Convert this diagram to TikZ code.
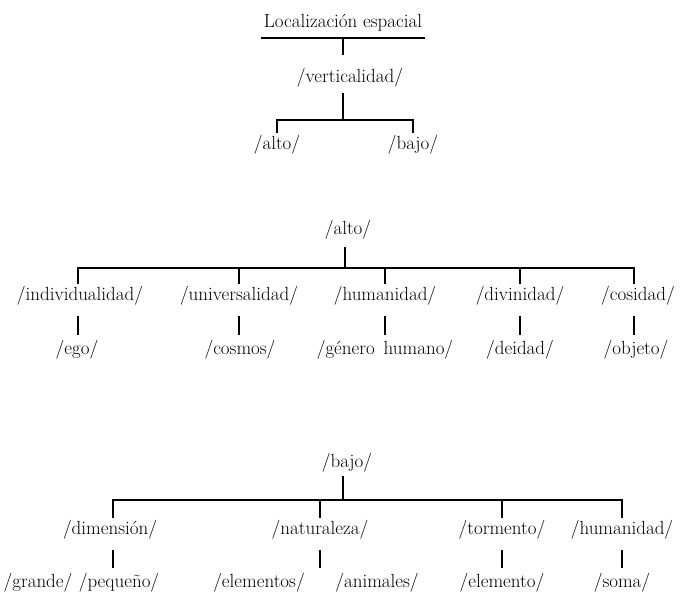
\documentclass[tikz,border=0pt]{standalone}
\usepackage{tikz}
\tikzset{
    lbl/.style={font=\fontsize{19}{23}\selectfont, text height=13.5pt, text depth=4pt, inner xsep=1pt, inner ysep=3pt},
    lnk/.style={line width=2.2pt},
    stem/.style={lnk, shorten <=8pt, shorten >=3pt}
}

\begin{document}
\begin{tikzpicture}[x=1pt, y=1pt]
    \fill[white](0, 0)rectangle(681, -594);
    \useasboundingbox(0, 0)rectangle(681, -594);
    \node[lbl, inner ysep=6pt, inner xsep=3pt](titulo)at(343, -23){Localización espacial};
    \draw[lnk](titulo.south west)--(titulo.south east);
    \node[lbl](vert)at(350, -78){/verticalidad/};
    \node[lbl](altoA)at(277, -145){/alto/};
    \node[lbl](bajoA)at(413, -145){/bajo/};
    \draw[lnk, shorten >=11pt](titulo.south)--(titulo.south |- vert.north);
    \draw[lnk](altoA.north)--++(0, 13)coordinate(barA)-|(bajoA.north);
    \draw[lnk, shorten <=3pt](vert.south -| titulo.south)--(titulo.south |- barA);

    \node[lbl](altoB)at(348, -230){/alto/};
    \node[lbl](indiv)at(80, -296){/individualidad/};
    \node[lbl](univ)at(239, -296){/universalidad/};
    \node[lbl](human)at(385, -296){/humanidad/};
    \node[lbl](divin)at(520, -296){/divinidad/};
    \node[lbl](cosid)at(638, -296){/cosidad/};
    \node[lbl](ego)at(77, -350){/ego/};
    \node[lbl](cosmos)at(240, -350){/cosmos/};
    \node[lbl](genero)at(385, -350){/género\, humano/};
    \node[lbl](deidad)at(520, -350){/deidad/};
    \node[lbl](objeto)at(636, -350){/objeto/};
    \draw[lnk]([xshift=-2pt]indiv.north)--++(0, 16)coordinate(barB)-|([xshift=-4pt]cosid.north);
    \draw[lnk, shorten <=5pt]([xshift=-3pt]altoB.south)--([xshift=-3pt]altoB.south |- barB);
    \foreach \n in {univ, human, divin}
        \draw[lnk](\n.north)--(\n.north |- barB);
    \draw[stem]([xshift=-2pt]indiv.south)--([xshift=-2pt]indiv.south |- ego.north);
    \draw[stem](univ.south)--(univ.south |- cosmos.north);
    \draw[stem](human.south)--(human.south |- genero.north);
    \draw[stem](divin.south)--(divin.south |- deidad.north);
    \draw[stem]([xshift=-4pt]cosid.south)--([xshift=-4pt]cosid.south |- objeto.north);

    \node[lbl](bajoB)at(347, -463){/bajo/};
    \node[lbl](dimen)at(110, -530){/dimensión/};
    \node[lbl](natur)at(320, -530){/naturaleza/};
    \node[lbl](torme)at(502, -530){/tormento/};
    \node[lbl](humanB)at(622, -530){/humanidad/};
    \node[lbl](grande)at(38, -583){/grande/};
    \node[lbl](peque)at(119, -583){/pequeño/};
    \node[lbl](elems)at(259, -583){/elementos/};
    \node[lbl](anima)at(377, -583){/animales/};
    \node[lbl](elemo)at(502, -583){/elemento/};
    \node[lbl](soma)at(622, -583){/soma/};
    \draw[lnk]([xshift=3pt]dimen.north)--++(0, 18)coordinate(barC)-|(humanB.north);
    \draw[lnk, shorten <=1pt]([xshift=-4pt]bajoB.south)--([xshift=-4pt]bajoB.south |- barC);
    \foreach \n in {natur, torme}
        \draw[lnk](\n.north)--(\n.north |- barC);
    \draw[stem]([xshift=3pt]dimen.south)--([xshift=3pt]dimen.south |- peque.north);
    \draw[stem](natur.south)--(natur.south |- anima.north);
    \draw[stem](torme.south)--(torme.south |- elemo.north);
    \draw[stem](humanB.south)--(humanB.south |- soma.north);
\end{tikzpicture}
\end{document}
